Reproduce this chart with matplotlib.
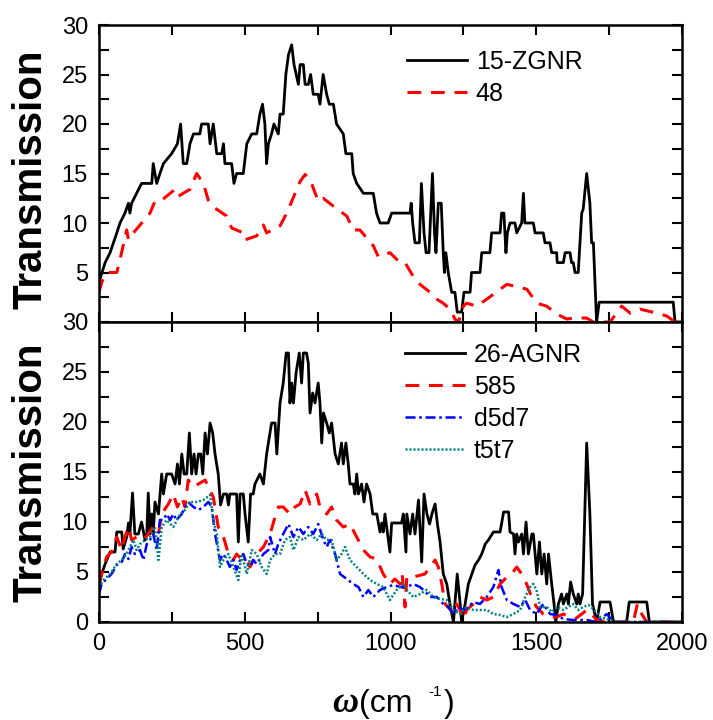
import matplotlib
matplotlib.use("Agg")
import matplotlib.pyplot as plt
from matplotlib.ticker import MultipleLocator

plt.rcParams['font.family'] = ['Liberation Sans', 'DejaVu Sans']

# ---------------- top panel: 15-ZGNR and 48 ----------------
zgnr_x = [3, 21, 38, 61, 72, 89, 101, 106, 112, 129, 146, 181, 186, 198, 209, 221, 249, 269, 280, 289,
          301, 312, 324, 346, 352, 375, 381, 392, 404, 421, 427, 432, 455, 463, 472, 495, 507, 524, 541,
          552, 561, 569, 575, 581, 592, 600, 615, 621, 632, 641, 650, 661, 669, 684, 690, 701, 707, 718,
          726, 735, 752, 758, 769, 781, 790, 804, 815, 838, 847, 867, 872, 884, 907, 941, 952, 964, 992,
          1004, 1033, 1067, 1071, 1076, 1084, 1099, 1106, 1115, 1122, 1132, 1144, 1151, 1156, 1164, 1174,
          1181, 1185, 1190, 1198, 1210, 1221, 1229, 1244, 1252, 1273, 1278, 1307, 1313, 1341, 1347, 1376,
          1381, 1389, 1396, 1401, 1410, 1427, 1433, 1450, 1456, 1461, 1490, 1496, 1524, 1530, 1547, 1553,
          1570, 1572, 1593, 1599, 1616, 1621, 1627, 1633, 1644, 1656, 1661, 1673, 1684, 1690, 1696, 1707,
          1716, 1970, 1976, 2000]
zgnr_y = [4.3, 6, 7, 9, 10, 11, 12, 11, 12, 13, 14, 14, 16, 14, 15, 16, 17, 18, 20, 16,
          16, 18, 19, 19, 20, 20, 18, 20, 17, 17, 18, 16, 16, 14, 15, 15, 18, 19, 19,
          21, 22, 20, 16, 18, 19, 20, 19, 21, 21, 25, 27, 28, 26, 24, 26, 26, 24, 24,
          25, 23, 23, 22, 25, 23, 22, 22, 20, 19, 17, 17, 15, 14, 13, 13, 11, 10, 10,
          11, 11, 11, 12, 10, 8, 8, 14, 9, 7, 7, 15, 9, 7, 12, 12,
          7, 5, 7, 5, 3, 3, 1, 1, 3, 3, 5, 5, 7, 7, 9, 9,
          11, 11, 7, 9, 10, 10, 9, 10, 13, 10, 10, 9, 9, 8, 8, 7,
          7, 6, 6, 7, 7, 6, 6, 5, 5, 11, 11.4, 15, 12, 8, 8, 0,
          2, 2, 0, 0]

s48_x = [0, 9, 26, 61, 72, 95, 101, 118, 175, 192, 215, 261, 272, 312, 335, 358, 375, 398, 438, 455,
         495, 501, 541, 564, 575, 621, 644, 690, 707, 724, 752, 769, 804, 850, 872, 895, 941, 958, 998,
         1033, 1050, 1078, 1101, 1136, 1159, 1181, 1204, 1221, 1233, 1250, 1261, 1296, 1330, 1376, 1399,
         1445, 1468, 1502, 1536, 1570, 1605, 1627, 1673, 1696, 1753, 1793, 1822, 1856, 1913, 1948, 1976, 2000]
s48_y = [3, 4, 5, 5, 6.3, 9.3, 8.3, 9, 11, 12.2, 12.3, 13.4, 12.7, 13.4, 15, 14, 12.3, 11.5, 10.7, 9.5,
         9, 8.3, 8.7, 9.8, 9, 9.7, 11, 14.2, 14.9, 14.4, 12.2, 12.5, 11.7, 10.7, 9.3, 9.3, 7.7, 6.6, 7,
         6, 6, 4.6, 3.8, 3, 2.3, 1.9, 1.3, 0.3, 0, 1.6, 1.9, 1.6, 2.3, 3.3, 3.8,
         3.5, 3.3, 1.9, 1.6, 0.8, 0.3, 0.4, 0.4, 0, 0, 1.6, 0.9, 1.3, 0.9, 0.6, 0, 0]

# ---------------- bottom panel: 26-AGNR, 585, d5d7, t5t7 ----------------
agnr_x = [0, 9, 21, 38, 55, 61, 78, 83, 95, 101, 106, 115, 123, 135, 146, 158, 164, 169, 175, 181,
          186, 192, 204, 215, 221, 232, 249, 261, 269, 276, 284, 292, 301, 310, 318, 326, 333, 341, 349,
          356, 364, 372, 381, 390, 398, 409, 417, 427, 438, 444, 449, 472, 478, 484, 495, 501, 512, 520,
          529, 535, 552, 564, 575, 592, 604, 610, 621, 632, 642, 650, 655, 661, 667, 676, 687, 695, 701,
          712, 718, 724, 733, 741, 752, 758, 764, 770, 781, 790, 798, 810, 821, 832, 838, 847, 855, 861,
          872, 878, 884, 890, 901, 909, 918, 930, 939, 953, 964, 970, 975, 981, 990, 998, 1004, 1038,
          1044, 1053, 1056, 1067, 1076, 1084, 1096, 1107, 1115, 1125, 1134, 1142, 1153, 1161, 1170, 1181,
          1193, 1204, 1216, 1221, 1229, 1239, 1244, 1256, 1267, 1279, 1290, 1302, 1313, 1325, 1336, 1353,
          1376, 1388, 1405, 1410, 1422, 1427, 1433, 1439, 1450, 1456, 1465, 1473, 1485, 1490, 1496, 1502,
          1511, 1519, 1527, 1536, 1542, 1553, 1561, 1567, 1576, 1587, 1593, 1605, 1610, 1618, 1627, 1639,
          1644, 1650, 1659, 1673, 1684, 1693, 1707, 1719, 1753, 1765, 1810, 1819, 1879, 1888, 2000]
agnr_y = [3.7, 4.8, 5.8, 7, 7, 9, 9, 7.3, 8.5, 9.9, 8.8, 12.9, 8.8, 8.8, 10, 8.2, 8.8, 12.9, 8.8, 10.8,
          8.8, 12, 10.8, 14.8, 12.8, 14.8, 14.8, 13.8, 15.8, 13.8, 16.8, 14.8, 14.8, 18.9, 14.8, 16.8, 14.8, 16.8, 16.8,
          14.8, 18.9, 16.8, 19.9, 18.9, 16.8, 14.8, 11.7, 12.8, 12.8, 11.7, 12.8, 12.8, 8, 12.8, 12.8, 10.8, 8, 12.8,
          12.8, 13.8, 14.8, 13.8, 16.8, 19.9, 19.9, 16.8, 21.9, 23.9, 26.9, 26.9, 21.9, 23.9, 21.9, 24.9, 26.9, 23.9, 26.9,
          26.9, 25.9, 20.9, 22.9, 21.9, 23.9, 21.9, 17.9, 20.9, 19.9, 18.9, 19.9, 16.8, 15.8, 17.9, 15.8, 17.9, 15.8, 13.8,
          13.8, 12.8, 14.8, 12.8, 13.8, 12, 13.8, 12.8, 10.8, 10.8, 9, 9.9, 9, 10.8, 8.8, 7, 9.9, 9.9,
          10.8, 7, 10.8, 8.8, 10.8, 8.8, 12.2, 6, 12.8, 10.8, 9.8, 10.8, 11.8, 9.8, 8, 4.8,
          3.8, 1.8, 0, 1.8, 4.8, 1.8, 0, 1.8, 3.8, 4.8, 5.7, 6.2, 6.8, 7.8, 8.2, 9,
          9, 11, 11, 9, 8.8, 6.8, 8.8, 8, 8.8, 6.8, 10, 6.8, 8.8, 8.8, 6.8, 4.8,
          8, 4.8, 6.8, 3.8, 6.8, 3.8, 1.8, 0, 1.8, 2.8, 1.8, 2.8, 1.8, 4, 2.8, 1.8,
          2.8, 1.8, 2.8, 17.9, 10.8, 1.8, 0, 2, 2, 0, 0, 2, 2, 0, 0]

s585_x = [0, 9, 26, 43, 61, 78, 89, 101, 112, 129, 152, 169, 186, 204, 215, 238, 255, 269, 284, 295,
          306, 324, 341, 364, 375, 392, 409, 427, 444, 461, 472, 489, 507, 518, 541, 564, 587, 604, 615,
          632, 655, 672, 690, 707, 724, 747, 758, 781, 798, 815, 838, 861, 884, 907, 930, 953, 975, 998,
          1015, 1033, 1040, 1050, 1056, 1078, 1118, 1136, 1153, 1164, 1176, 1187, 1204, 1216, 1227, 1238,
          1250, 1261, 1284, 1307, 1330, 1353, 1376, 1399, 1416, 1433, 1450, 1467, 1484, 1501, 1524, 1547,
          1570, 1593, 1616, 1633, 1656, 1673, 1690, 1707, 1742, 1833, 1847, 1862, 1879, 2000]
s585_y = [3.8, 4.8, 6.5, 7, 8.5, 7.2, 8.5, 9.5, 8.2, 8.5, 8.2, 8.8, 9.5, 8.8, 10.8, 11.8, 12.8, 11.5, 12.5, 11.5,
          14.2, 13.5, 13.8, 14.2, 13.5, 12.5, 9.5, 8.5, 6.8, 6.2, 6.8, 6.3, 6.2, 5.5, 6.8, 7.5, 8.8, 10.5, 11.5,
          11.5, 10.8, 11.5, 11.8, 13.2, 11.8, 12.8, 11.5, 10.8, 11.5, 10.2, 9.5, 9.8, 8.5, 7.2, 6.5, 6.3, 4.8, 3.8,
          4.3, 3.8, 4.8, 1.5, 4.5, 4.5, 4.8, 5.5, 6.2, 5.5, 3.8, 1.8, 1.3, 0.8, 1.8, 1.2,
          0.3, 1.2, 1.8, 2.5, 2.2, 2.5, 3.8, 4.5, 4.8, 5.5, 4.8, 3.8, 2.5, 1.5, 0.8, 0.5,
          0.5, 0.8, 0.5, 0.3, 0.8, 1.2, 0.8, 0.2, 0, 0, 1.8, 0.8, 0, 0]

d5d7_x = [0, 9, 26, 43, 61, 78, 89, 101, 112, 123, 141, 152, 164, 175, 186, 198, 209, 221, 232, 244,
          255, 266, 284, 295, 306, 324, 341, 358, 375, 387, 398, 415, 427, 438, 449, 461, 472, 484, 495,
          507, 518, 529, 541, 564, 581, 587, 604, 615, 632, 650, 667, 684, 701, 718, 735, 752, 770, 781,
          792, 810, 827, 850, 872, 890, 907, 924, 941, 964, 987, 1010, 1033, 1056, 1078, 1101, 1113, 1136,
          1159, 1181, 1198, 1216, 1233, 1250, 1267, 1284, 1307, 1330, 1353, 1370, 1381, 1399, 1422, 1445,
          1462, 1479, 1501, 1524, 1547, 1570, 1593, 1627, 1673, 1707, 1742, 1765, 2000]
d5d7_y = [2.8, 3.8, 4.3, 4.8, 5.7, 6, 6.8, 6.3, 7.5, 6.8, 7.2, 6.2, 7.8, 8.2, 8.8, 7.2, 10.2, 10.2, 10.8, 10.2,
          10.8, 10.2, 10.8, 11.5, 12, 11.5, 11.2, 11.5, 12, 11.5, 8.8, 6.2, 6.8, 6.2, 5.5, 6.2, 5.2, 6.2, 6.8,
          5.8, 5.5, 6.2, 5.8, 6.8, 7.2, 8.5, 6.8, 7.8, 8.8, 9.8, 8.5, 9.5, 8.8, 9.5, 8.8, 9.8, 8.2, 7.5,
          8.2, 6.8, 4.8, 4.3, 3.8, 3.5, 2.5, 3.2, 2.5, 3.2, 3.5, 3.7, 3.5, 3.5, 3.8, 3.5, 3.2, 2.5,
          2.5, 1.8, 1.5, 0.8, 1.5, 1.2, 1.5, 2, 1.8, 2.5, 3.5, 5.2, 3.5, 2.2, 1.8, 1.5,
          2.2, 1.2, 0.8, 1.8, 0.8, 0.7, 0.3, 0.2, 0.2, 0, 0.8, 0, 0]

t5t7_x = [0, 15, 38, 61, 78, 95, 106, 118, 129, 141, 158, 175, 192, 204, 215, 232, 255, 278, 295, 312,
          335, 358, 381, 392, 404, 415, 427, 444, 461, 478, 489, 507, 524, 541, 558, 575, 587, 604, 621,
          638, 655, 667, 684, 701, 724, 747, 764, 781, 798, 815, 832, 844, 861, 884, 907, 930, 953, 975,
          998, 1021, 1044, 1056, 1078, 1101, 1124, 1147, 1170, 1193, 1216, 1238, 1261, 1284, 1330, 1353,
          1376, 1399, 1422, 1445, 1462, 1479, 1490, 1501, 1513, 1536, 1553, 1570, 1593, 1610, 1627, 1644,
          1661, 1679, 1696, 1719, 1742, 1776, 2000]
t5t7_y = [3.5, 4.2, 4.8, 5.8, 6.2, 6.8, 7.5, 8.2, 7.2, 7.8, 8.2, 8.5, 9.5, 6.2, 9.5, 10.2, 9.5, 10.8, 11.2, 12,
          12, 12.2, 12.7, 10.2, 8.8, 5.5, 6.2, 6.8, 5.5, 4.2, 6.8, 4.8, 7.2, 6.8, 5.5, 4.8, 6.2, 6.8, 6.8,
          8.2, 8.5, 7.2, 8.5, 8.2, 8.8, 8.2, 8.8, 8.2, 8.2, 6.2, 6.8, 7.5, 6.2, 5.5, 4.8, 4.2, 3.8, 3.5,
          2.2, 3.2, 3.8, 3.2, 2.5, 2.8, 3.2, 2.5, 2.3, 2.2, 1.2, 0.8, 1.5, 1.2, 1.2, 0.8,
          0.7, 0.5, 0.8, 1.2, 2.5, 3.5, 3.8, 3.2, 1.5, 1.5, 1.0, 1.5, 1.2, 1.5, 1.8, 1.2,
          1.5, 1.7, 1.3, 0.5, 0.3, 0, 0]

x_ticks = [0, 500, 1000, 1500, 2000]
y_ticks = [0, 5, 10, 15, 20, 25, 30]

fig = plt.figure(figsize=(7.13, 7.2), dpi=100)
L, R = 99 / 713, 682 / 713
ax1 = fig.add_axes([L, 1 - 322 / 720, R - L, (322 - 25) / 720])
ax2 = fig.add_axes([L, 1 - 622 / 720, R - L, (622 - 322) / 720])

ax1.plot(zgnr_x, zgnr_y, color='black', lw=2.0, label='15-ZGNR')
ax1.plot(s48_x, s48_y, color='red', lw=2.2, dashes=(4.5, 3.2), label='48')

ax2.plot(agnr_x, agnr_y, color='black', lw=2.0, label='26-AGNR')
ax2.plot(s585_x, s585_y, color='red', lw=2.2, dashes=(4.5, 3.2), label='585')
ax2.plot(d5d7_x, d5d7_y, color='blue', lw=1.8, dashes=(4, 1.5, 1, 1.5), label='d5d7')
ax2.plot(t5t7_x, t5t7_y, color='#008080', lw=1.8, dashes=(0.8, 0.8), label='t5t7')

for ax in (ax1, ax2):
    ax.set_xlim(0, 2000)
    ax.set_ylim(0, 30)
    ax.set_xticks(x_ticks)
    ax.set_yticks(y_ticks)
    ax.xaxis.set_minor_locator(MultipleLocator(250))
    ax.yaxis.set_minor_locator(MultipleLocator(2.5))
    ax.tick_params(which='both', direction='in', top=True, right=True, length=7, width=1.5,
                   labelsize=17, pad=8)
    for sp in ax.spines.values():
        sp.set_linewidth(1.8)
    ax.set_ylabel('Transmission', fontsize=29, fontweight='bold')

ax1.set_yticklabels([''] + [str(v) for v in y_ticks[1:]])
ax1.tick_params(labelbottom=False)
ax1.yaxis.set_label_coords(-0.085, 0.48)
ax2.yaxis.set_label_coords(-0.085, 0.5)

leg_kw = dict(loc='upper left', frameon=False, fontsize=18, borderpad=0, borderaxespad=0,
              handlelength=2.4, handletextpad=0.36, labelspacing=0.32)
ax1.legend(bbox_to_anchor=(0.528, 0.915), **leg_kw)
ax2.legend(bbox_to_anchor=(0.525, 0.93), **leg_kw)

# x-axis label: omega (cm-1)
yc = 1 - 704 / 720
fig.text(345 / 713, yc, '\u03c9', family='Liberation Serif', style='italic',
         fontweight='bold', fontsize=26, ha='center', va='center')
fig.text(359 / 713, yc, '(cm', fontsize=23, ha='left', va='center')
fig.text(428 / 713, 1 - 692 / 720, '-1', fontsize=11, ha='left', va='center')
fig.text(444 / 713, yc, ')', fontsize=23, ha='left', va='center')

fig.savefig('out.png', dpi=100)
